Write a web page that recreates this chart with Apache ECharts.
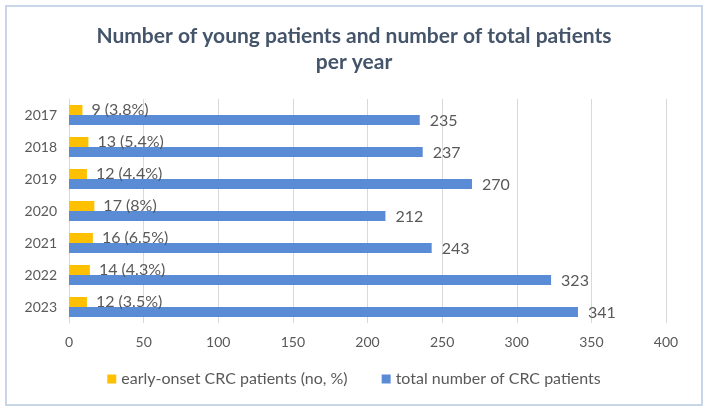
<!DOCTYPE html>
<html><head><meta charset="utf-8">
<script src="https://cdn.jsdelivr.net/npm/echarts@6/dist/echarts.min.js"></script>
<style>html,body{margin:0;padding:0;background:#fff;}
#frame{position:absolute;left:5px;top:5px;width:694px;height:397px;border:2px solid #c9d6e8;box-sizing:content-box;}
#c{position:absolute;left:0;top:0;width:708px;height:415px;}</style>
</head><body>
<div id="frame"></div>
<div id="c"></div>
<script>
const years = ['2017','2018','2019','2020','2021','2022','2023'];
const young = [9, 13, 12, 17, 16, 14, 12];
const youngPct = ['3.8', '5.4', '4.4', '8', '6.5', '4.3', '3.5'];
const total = [235, 237, 270, 212, 243, 323, 341];
const xTicks = [0, 50, 100, 150, 200, 250, 300, 350, 400];

const FONT = 'Lato';
const chart = echarts.init(document.getElementById('c'), null, {renderer:'canvas'});
chart.setOption({
  animation: false,
  backgroundColor: 'transparent',
  textStyle: {fontFamily: FONT},
  title: {
    text: 'Number of young patients and number of total patients\nper year',
    left: 'center', top: 18,
    textStyle: {fontFamily: FONT, fontSize: 21, fontWeight: 'bold', color: '#44546A', lineHeight: 26}
  },
  legend: {
    bottom: 23, left: 'center', itemWidth: 9, itemHeight: 9, itemGap: 34,
    icon: 'rect',
    textStyle: {fontFamily: FONT, fontSize: 16, color: '#595959'},
    data: ['early-onset CRC patients (no, %)', 'total number of CRC patients']
  },
  grid: {left: 69, right: 42, top: 99, bottom: 92},
  xAxis: {
    type: 'value', min: xTicks[0], max: xTicks[xTicks.length-1], interval: 50,
    axisLabel: {fontFamily: FONT, fontSize: 14, color: '#595959', margin: 12},
    axisLine: {show: false}, axisTick: {show: false},
    splitLine: {lineStyle: {color: '#d9d9d9', width: 1}}
  },
  yAxis: {
    type: 'category', data: years, inverse: true,
    axisLabel: {fontFamily: FONT, fontSize: 14, color: '#595959', margin: 12},
    axisLine: {lineStyle: {color: '#d9d9d9'}}, axisTick: {show: false}
  },
  series: [
    {
      name: 'early-onset CRC patients (no, %)', type: 'bar', data: young,
      itemStyle: {color: '#FFC000'}, barGap: '0%', barCategoryGap: '37.5%',
      label: {show: true, position: 'right', distance: 9, fontFamily: FONT, fontSize: 16, color: '#595959',
        formatter: p => young[p.dataIndex] + ' (' + youngPct[p.dataIndex] + '%)'}
    },
    {
      name: 'total number of CRC patients', type: 'bar', data: total,
      itemStyle: {color: '#5A8BD5'}, barGap: '0%', barCategoryGap: '37.5%',
      label: {show: true, position: 'right', distance: 10, fontFamily: FONT, fontSize: 16, color: '#595959', offset: [0, 1]}
    }
  ]
});
</script>
</body></html>
